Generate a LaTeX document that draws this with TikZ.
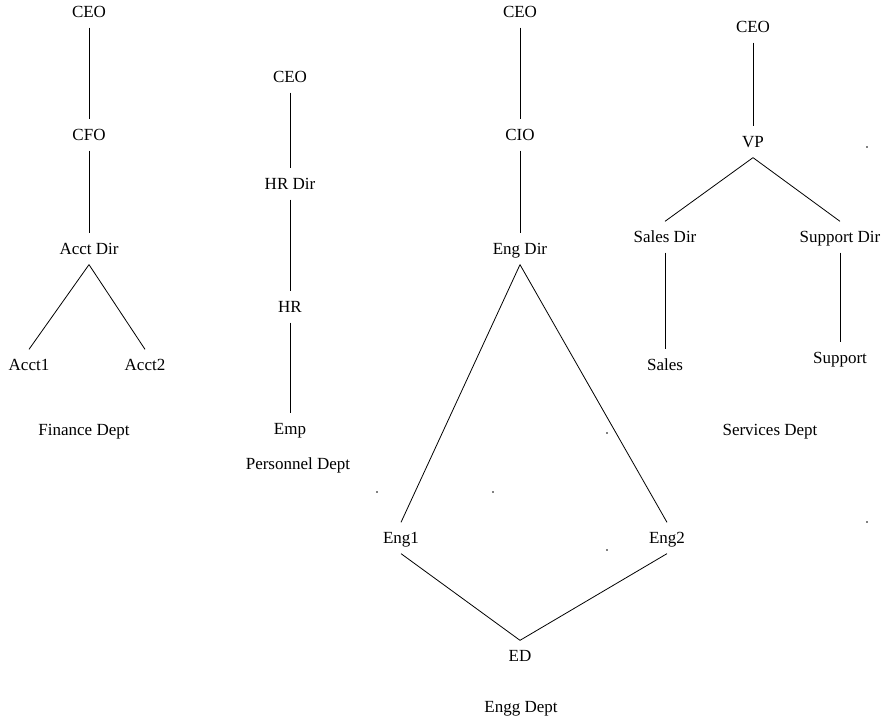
\documentclass[tikz,border=0pt]{standalone}
\usepackage{fontspec}
\setmainfont{Liberation Serif}
\usepackage{tikz}
\usepackage{xcolor}

\begin{document}
\begin{tikzpicture}[x=1pt,y=1pt,
  lbl/.style={text=drawColor,inner xsep=0pt,inner ysep=10pt,outer sep=0pt,
    text height=11.3pt,text depth=0pt,font=\fontsize{17}{20}\selectfont},
  pointmark/.style={circle,fill=drawColor,inner sep=0pt,minimum size=1.6pt},
  link/.style={draw=drawColor,line width=0.8pt,line join=round}]
\definecolor{fillColor}{RGB}{255,255,255}
\definecolor{drawColor}{RGB}{0,0,0}
\path[use as bounding box,fill=fillColor] (0,0) rectangle (884,719);

\node[lbl] (fceo) at ( 89,707) {CEO};
\node[lbl] (fcfo) at ( 89,584) {CFO};
\node[lbl] (facctdir) at ( 89,470) {Acct Dir};
\node[lbl] (facct1) at ( 29,354) {Acct1};
\node[lbl] (facct2) at (145,354) {Acct2};
\node[lbl] (fdept) at ( 84,289) {Finance Dept};

\node[lbl] (pceo) at (290,642) {CEO};
\node[lbl] (phrdir) at (290,535) {HR Dir};
\node[lbl] (phr) at (290,412) {HR};
\node[lbl] (pemp) at (290,290) {Emp};
\node[lbl] (pdept) at (298,255) {Personnel Dept};

\node[lbl] (eceo) at (520,707) {CEO};
\node[lbl] (ecio) at (520,584) {CIO};
\node[lbl] (eengdir) at (520,470) {Eng Dir};
\node[lbl] (eeng1) at (401,181) {Eng1};
\node[lbl] (eeng2) at (667,181) {Eng2};
\node[lbl] (eed) at (520, 63) {ED};
\node[lbl] (edept) at (521, 12) {Engg Dept};

\node[lbl] (sceo) at (753,692) {CEO};
\node[lbl] (svp) at (753,577) {VP};
\node[lbl] (ssalesdir) at (665,482) {Sales Dir};
\node[lbl] (ssuppdir) at (840,482) {Support Dir};
\node[lbl] (ssales) at (665,354) {Sales};
\node[lbl] (ssupp) at (840,361) {Support};
\node[lbl] (sdept) at (770,289) {Services Dept};

\node[pointmark] (pt1) at (867,572) {};
\node[pointmark] (pt2) at (377,227) {};
\node[pointmark] (pt3) at (493,227) {};
\node[pointmark] (pt4) at (607,286) {};
\node[pointmark] (pt5) at (607,169) {};
\node[pointmark] (pt6) at (867,197) {};

\path[link] (fceo.south) -- (fcfo.north);
\path[link] (fcfo.south) -- (facctdir.north);
\path[link] (facctdir.south) -- (facct1.north);
\path[link] (facctdir.south) -- (facct2.north);

\path[link] (pceo.south) -- (phrdir.north);
\path[link] (phrdir.south) -- (phr.north);
\path[link] (phr.south) -- (pemp.north);

\path[link] (eceo.south) -- (ecio.north);
\path[link] (ecio.south) -- (eengdir.north);
\path[link] (eengdir.south) -- (eeng1.north);
\path[link] (eengdir.south) -- (eeng2.north);
\path[link] (eeng1.south) -- (eed.north);
\path[link] (eeng2.south) -- (eed.north);

\path[link] (sceo.south) -- (svp.north);
\path[link] (svp.south) -- (ssalesdir.north);
\path[link] (svp.south) -- (ssuppdir.north);
\path[link] (ssalesdir.south) -- (ssales.north);
\path[link] (ssuppdir.south) -- (ssupp.north);
\end{tikzpicture}
\end{document}
